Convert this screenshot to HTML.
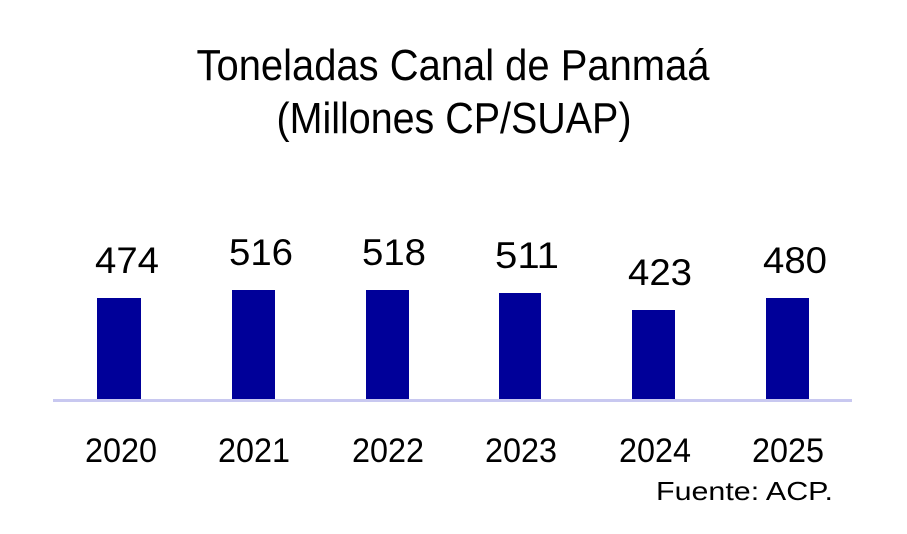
<!DOCTYPE html>
<html><head><style>body{margin:0;background:#fff}svg{display:block}</style></head><body>
<svg width="907" height="534" xmlns="http://www.w3.org/2000/svg" font-family="Liberation Sans, sans-serif" fill="#000">
<text x="453" y="80" font-size="44" text-anchor="middle" textLength="513" lengthAdjust="spacingAndGlyphs">Toneladas Canal de Panmaá</text>
<text x="454" y="133" font-size="44" text-anchor="middle" textLength="355" lengthAdjust="spacingAndGlyphs">(Millones CP/SUAP)</text>
<g fill="#000099">
<rect x="97" y="298" width="44" height="102"/>
<rect x="232" y="290" width="43" height="110"/>
<rect x="366" y="290" width="43" height="110"/>
<rect x="499" y="293" width="42" height="107"/>
<rect x="632" y="310" width="43" height="90"/>
<rect x="766" y="298" width="43" height="102"/>
</g>
<rect x="53" y="399" width="799" height="3" fill="#c8c8f0"/>
<g font-size="37" text-anchor="middle">
<text x="127" y="273" textLength="64" lengthAdjust="spacingAndGlyphs">474</text>
<text x="261" y="265" textLength="64" lengthAdjust="spacingAndGlyphs">516</text>
<text x="394" y="265" textLength="64" lengthAdjust="spacingAndGlyphs">518</text>
<text x="527" y="268" textLength="64" lengthAdjust="spacingAndGlyphs">511</text>
<text x="660" y="285" textLength="64" lengthAdjust="spacingAndGlyphs">423</text>
<text x="795" y="273" textLength="64" lengthAdjust="spacingAndGlyphs">480</text>
</g>
<g font-size="34" text-anchor="middle">
<text x="121" y="462" textLength="72" lengthAdjust="spacingAndGlyphs">2020</text>
<text x="254" y="462" textLength="72" lengthAdjust="spacingAndGlyphs">2021</text>
<text x="388" y="462" textLength="72" lengthAdjust="spacingAndGlyphs">2022</text>
<text x="521" y="462" textLength="72" lengthAdjust="spacingAndGlyphs">2023</text>
<text x="655" y="462" textLength="72" lengthAdjust="spacingAndGlyphs">2024</text>
<text x="788" y="462" textLength="72" lengthAdjust="spacingAndGlyphs">2025</text>
</g>
<text x="656" y="500" font-size="26" textLength="177" lengthAdjust="spacingAndGlyphs">Fuente: ACP.</text>
</svg>
</body></html>
